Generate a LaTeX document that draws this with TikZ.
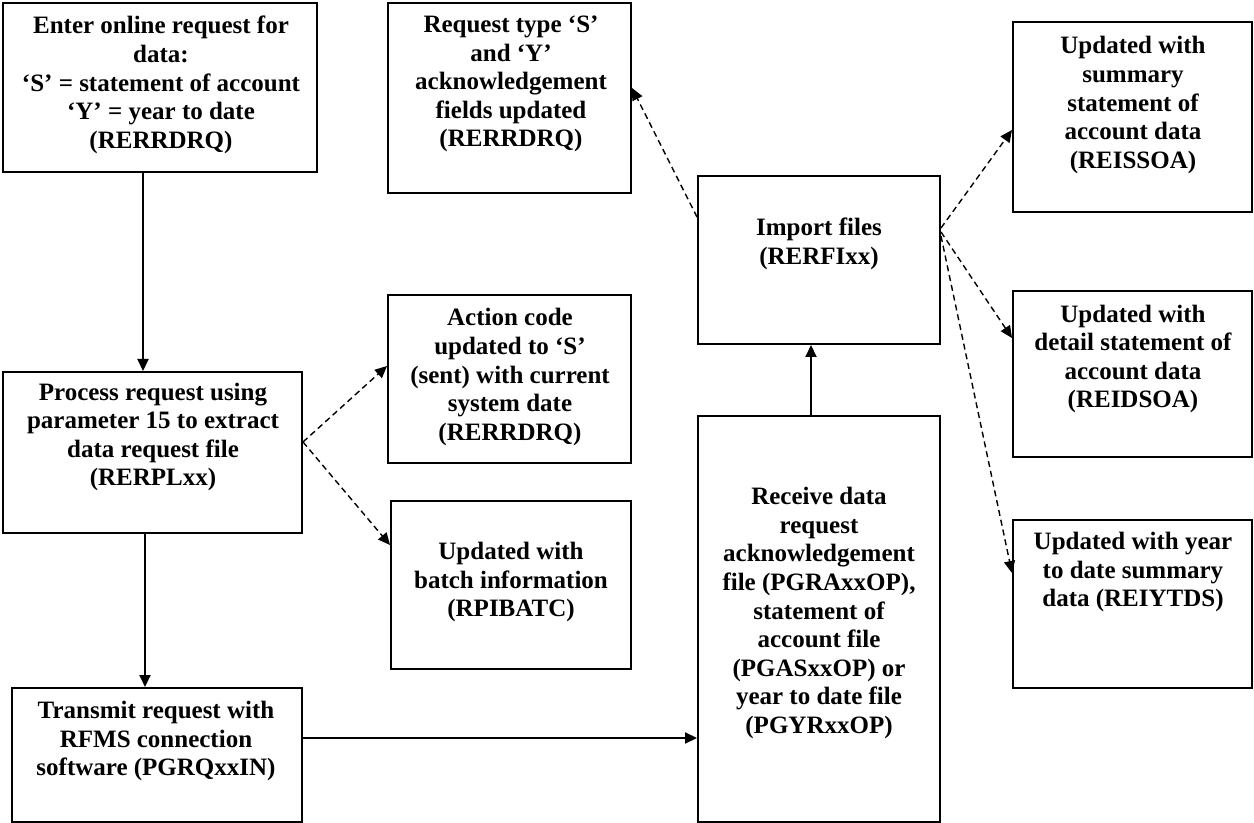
\documentclass[tikz,border=0pt]{standalone}
\usepackage{fontspec}
\setmainfont{Liberation Serif}
\usetikzlibrary{arrows.meta}
\newcommand\mybox[5]{\node[box, minimum width={(#4-#2)*0.5pt}, minimum height={(#5-#3)*0.5pt}] (#1) at ({(#2+#4)/2},{(#3+#5)/2}) {};}
\begin{document}
\begin{tikzpicture}[x=0.5pt,y=-0.5pt,
  box/.style={draw, line width=1pt, rectangle, inner sep=0pt},
  txt/.style={align=center, inner sep=0pt, font=\bfseries\fontsize{12.5}{14.3}\selectfont},
  solidarrow/.style={line width=1pt, -{Triangle[length=6pt,width=5.5pt]}},
  dasharrow/.style={line width=0.7pt, dash pattern=on 3pt off 2pt, -{Triangle[length=6pt,width=5.5pt]}}]
\useasboundingbox (0,0) rectangle (1254,823);
% boxes
\mybox{b1}{3}{3}{317}{172}
\mybox{b2}{3}{372}{302}{533}
\mybox{b3}{12}{688}{302}{822}
\mybox{b6}{388}{3}{631}{193}
\mybox{b4}{388}{295}{631}{463}
\mybox{b5}{391}{501}{631}{669}
\mybox{b7}{698}{176}{940}{344}
\mybox{b8}{698}{416}{940}{822}
\mybox{b9}{1013}{22}{1252}{212}
\mybox{b10}{1013}{291}{1252}{457}
\mybox{b11}{1013}{520}{1252}{688}
% texts
\node[txt] (t1) at (161,85) {Enter online request for\\data:\\‘S’ = statement of account\\‘Y’ = year to date\\(RERRDRQ)};
\node[txt] (t2) at (153,437) {Process request using\\parameter 15 to extract\\data request file\\(RERPLxx)};
\node[txt] (t3) at (156,741) {Transmit request with\\RFMS connection\\software (PGRQxxIN)};
\node[txt] (t6) at (511,84) {Request type ‘S’\\and ‘Y’\\acknowledgement\\fields updated\\(RERRDRQ)};
\node[txt] (t4) at (510,377) {Action code\\updated to ‘S’\\(sent) with current\\system date\\(RERRDRQ)};
\node[txt] (t5) at (511,582) {Updated with\\batch information\\(RPIBATC)};
\node[txt] (t7) at (819,244) {Import files\\(RERFIxx)};
\node[txt] (t8) at (819,613) {Receive data\\request\\acknowledgement\\file (PGRAxxOP),\\statement of\\account file\\(PGASxxOP) or\\year to date file\\(PGYRxxOP)};
\node[txt] (t9) at (1133,105) {Updated with\\summary\\statement of\\account data\\(REISSOA)};
\node[txt] (t10) at (1133,359) {Updated with\\detail statement of\\account data\\(REIDSOA)};
\node[txt] (t11) at (1133,572) {Updated with year\\to date summary\\data (REIYTDS)};
% solid connectors
\draw[solidarrow] (b1.south -| 143,0) -- (b2.north -| 143,0);
\draw[solidarrow] (b2.south -| 145,0) -- (b3.north -| 145,0);
\draw[solidarrow] (b3.east |- 0,738) -- (b8.west |- 0,738);
\draw[solidarrow] (b8.north -| 811,0) -- (b7.south -| 811,0);
% dashed connectors
\draw[dasharrow] (b2.east |- 0,442) -- (b4.west |- 0,366);
\draw[dasharrow] (b2.east |- 0,442) -- (b5.west |- 0,545);
\draw[dasharrow] (b7.west |- 0,217) -- (b6.east |- 0,88);
\draw[dasharrow] (b7.east |- 0,228) -- (b9.west |- 0,130);
\draw[dasharrow] (b7.east |- 0,232) -- (b10.west |- 0,338);
\draw[dasharrow] (b7.east |- 0,236) -- (b11.west |- 0,573);
\end{tikzpicture}
\end{document}
